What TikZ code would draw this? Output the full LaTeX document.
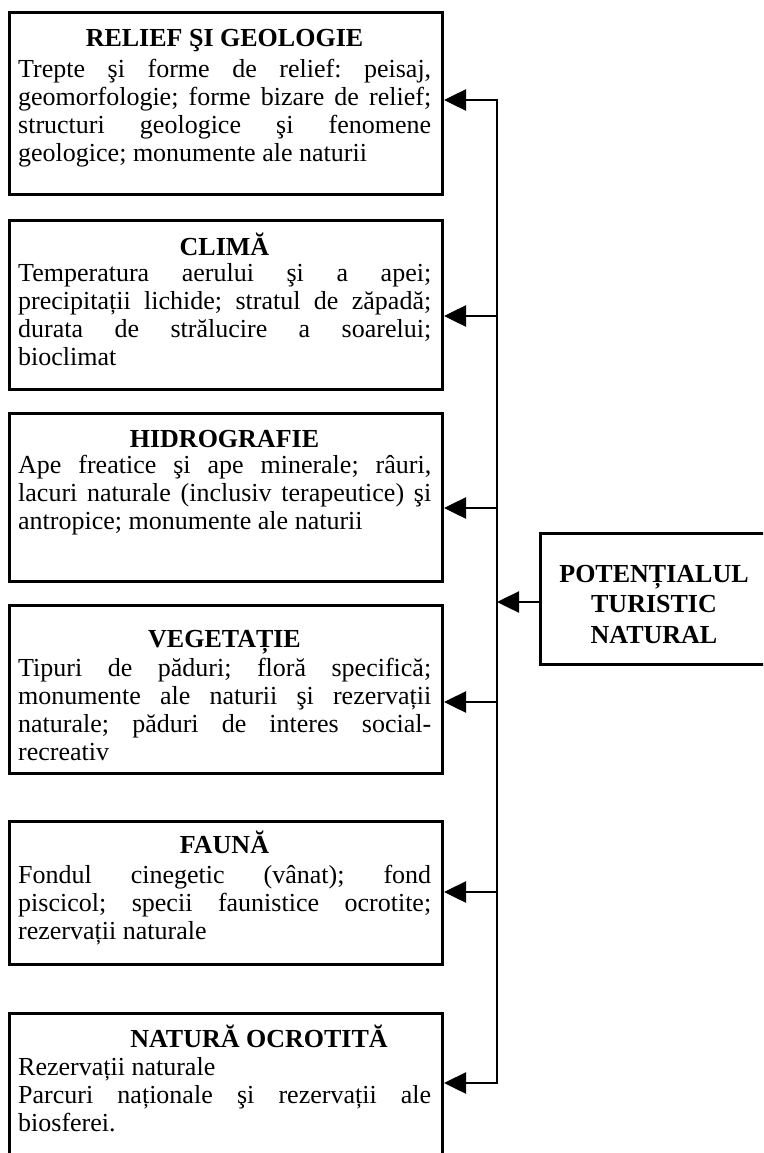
\documentclass[tikz,border=0pt]{standalone}
\usepackage{fontspec}
\setmainfont{Liberation Serif}
\usetikzlibrary{arrows.meta}
% justified body text of one panel; the first baseline is the node's base
\newcommand\panelbody[1]{\parbox[t]{413pt}{\fontsize{26}{28}\selectfont
  \frenchspacing\parindent=0pt\hyphenpenalty=10000\relax #1}}
\begin{document}
\begin{tikzpicture}[x=1pt,y=-1pt,
  frame/.style={draw, line width=3pt, rectangle, inner sep=0pt, anchor=north west},
  ttl/.style={font=\fontsize{26}{28}\selectfont\bfseries, inner sep=0pt, anchor=base},
  txt/.style={inner sep=0pt, anchor=base west},
  link/.style={line width=2.5pt, line cap=rect},
  arr/.style={line width=2.5pt, -{Triangle[length=22pt,width=21pt]}}]

\useasboundingbox (0,0) rectangle (763,1153);
\clip (0,0) rectangle (763,1153);
\fill[white] (0,0) rectangle (763,1153);

% ---- panels on the left ----
\node[frame, minimum width=433pt, minimum height=182pt] (b1) at (8,11) {};
\node[ttl] (t1) at (224.5,47) {RELIEF ŞI GEOLOGIE};
\node[txt] (d1) at (18,78) {\panelbody{Trepte şi forme de relief: peisaj,\linebreak
  geomorfologie; forme bizare de relief;\linebreak
  structuri geologice şi fenomene\linebreak
  geologice; monumente ale naturii}};

\node[frame, minimum width=433pt, minimum height=169pt] (b2) at (8,219) {};
\node[ttl] (t2) at (224.5,255) {CLIMĂ};
\node[txt] (d2) at (18,281) {\panelbody{Temperatura aerului şi a apei;\linebreak
  precipitații lichide; stratul de zăpadă;\linebreak
  durata de strălucire a soarelui;\linebreak
  bioclimat}};

\node[frame, minimum width=433pt, minimum height=168pt] (b3) at (8,412) {};
\node[ttl] (t3) at (224.5,447) {HIDROGRAFIE};
\node[txt] (d3) at (18,473) {\panelbody{Ape freatice şi ape minerale; râuri,\linebreak
  lacuri naturale (inclusiv terapeutice) şi\linebreak
  antropice; monumente ale naturii}};

\node[frame, minimum width=433pt, minimum height=168pt] (b4) at (8,604) {};
\node[ttl] (t4) at (224.5,647) {VEGETAȚIE};
\node[txt] (d4) at (18,676) {\panelbody{Tipuri de păduri; floră specifică;\linebreak
  monumente ale naturii şi rezervații\linebreak
  naturale; păduri de interes social-\linebreak
  recreativ}};

\node[frame, minimum width=433pt, minimum height=143pt] (b5) at (8,820) {};
\node[ttl] (t5) at (224.5,853) {FAUNĂ};
\node[txt] (d5) at (18,883) {\panelbody{Fondul cinegetic (vânat); fond\linebreak
  piscicol; specii faunistice ocrotite;\linebreak
  rezervații naturale}};

\node[frame, minimum width=433pt, minimum height=170pt] (b6) at (8,1012) {};
\node[ttl] (t6) at (259,1047) {NATURĂ OCROTITĂ};
\node[txt] (d6) at (18,1075) {\panelbody{Rezervații naturale\par
  Parcuri naționale şi rezervații ale\linebreak
  biosferei.}};

% ---- source panel on the right ----
\node[frame, minimum width=231pt, minimum height=131pt] (pot) at (539,532) {};
\node[inner sep=0pt, anchor=base] (tp) at (654,582)
  {\parbox[t]{231pt}{\centering\fontsize{26}{30.5}\selectfont\bfseries
   POTENȚIALUL\\TURISTIC\\NATURAL}};

% ---- distribution bus and arrows ----
\coordinate (j1) at (497,100);
\coordinate (j2) at (497,316);
\coordinate (j3) at (497,508);
\coordinate (jp) at (497,602);
\coordinate (j4) at (497,702);
\coordinate (j5) at (497,892);
\coordinate (j6) at (497,1083);

\draw[link] (j1) -- (j6);
\draw[arr] (pot.west |- jp) -- (jp);
\draw[arr] (j1) -- (j1 -| b1.east);
\draw[arr] (j2) -- (j2 -| b2.east);
\draw[arr] (j3) -- (j3 -| b3.east);
\draw[arr] (j4) -- (j4 -| b4.east);
\draw[arr] (j5) -- (j5 -| b5.east);
\draw[arr] (j6) -- (j6 -| b6.east);
\end{tikzpicture}
\end{document}
